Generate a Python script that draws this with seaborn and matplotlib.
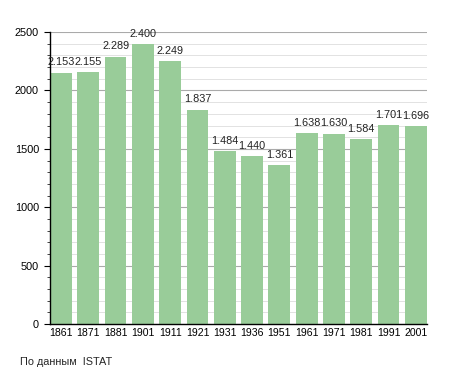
import matplotlib
matplotlib.use('Agg')
import pandas as pd
import seaborn as sns
import matplotlib.pyplot as plt
from matplotlib.ticker import MultipleLocator

# Population by census year
years = ['1861', '1871', '1881', '1901', '1911', '1921', '1931',
         '1936', '1951', '1961', '1971', '1981', '1991', '2001']
population = [2153, 2155, 2289, 2400, 2249, 1837, 1484,
              1440, 1361, 1638, 1630, 1584, 1701, 1696]

df = pd.DataFrame({'year': years, 'pop': population})

sns.set_style('white')
plt.rcParams['font.family'] = ['Liberation Sans', 'DejaVu Sans']

fig = plt.figure(figsize=(4.55, 3.73), dpi=100)
ax = fig.add_axes([0.11, 0.131, 0.828, 0.783])

sns.barplot(x='year', y='pop', data=df, color='#99cc99', saturation=1,
            width=0.8, linewidth=0, ax=ax, zorder=2)

for i, v in enumerate(population):
    ax.text(i, v + 45, f'{v:,}'.replace(',', '.'), ha='center', va='bottom',
            fontsize=7.8, color='#222222', zorder=3)

ax.set_ylim(0, 2500)
ax.set_xlim(-0.4, 13.4)
ax.yaxis.set_major_locator(MultipleLocator(500))
ax.yaxis.set_minor_locator(MultipleLocator(100))
ax.grid(axis='y', which='major', color='#aaaaaa', linewidth=0.8, zorder=0)
ax.grid(axis='y', which='minor', color='#dddddd', linewidth=0.6, zorder=0)
ax.set_axisbelow(True)

for s in ['top', 'right']:
    ax.spines[s].set_visible(False)
ax.spines['left'].set_color('black')
ax.spines['bottom'].set_color('black')
ax.spines['left'].set_linewidth(1)
ax.spines['bottom'].set_linewidth(1)

ax.tick_params(axis='y', which='major', left=True, length=4, labelsize=7.8,
               pad=4, colors='black')
ax.tick_params(axis='y', which='minor', left=True, length=2)
ax.tick_params(axis='x', bottom=False, length=0, labelsize=7.6, pad=3,
               colors='black')
ax.set_xlabel('')
ax.set_ylabel('')

fig.text(20 / 455, 1 - 362 / 373, 'По данным  ISTAT', fontsize=7.8, va='center')

fig.savefig('out.png', dpi=100)
